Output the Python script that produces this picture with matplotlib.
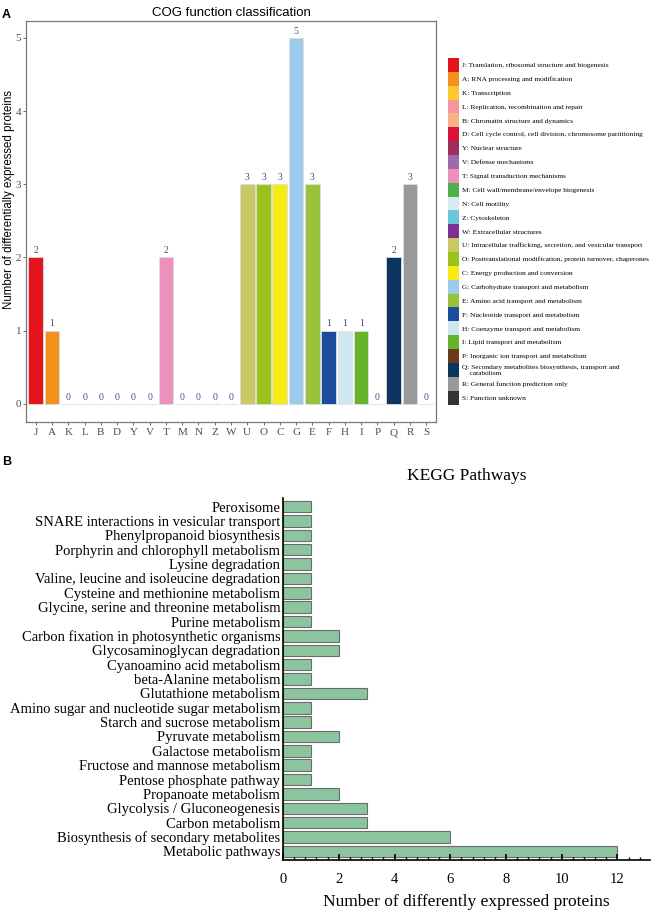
import matplotlib
matplotlib.use("Agg")
import matplotlib.pyplot as plt
from matplotlib.patches import Patch

# COG data
cog_codes = ["J", "A", "K", "L", "B", "D", "Y", "V", "T", "M", "N", "Z", "W",
             "U", "O", "C", "G", "E", "F", "H", "I", "P", "Q", "R", "S"]
cog_counts = [2, 1, 0, 0, 0, 0, 0, 0, 2, 0, 0, 0, 0,
              3, 3, 3, 5, 3, 1, 1, 1, 0, 2, 3, 0]
cog_colors = ["#E5141E", "#F3911F", "#FDC82F", "#F4979A", "#F9B08A", "#D7133A",
              "#9E2F5E", "#9D6BA8", "#EE90BC", "#4DB04A", "#D6EBF2", "#6CC5D9",
              "#7E3192", "#C9C864", "#99C31C", "#F7EB15", "#9DCBEC", "#98C23A",
              "#1E4C9C", "#CFE8EF", "#66B32E", "#6B3A1E", "#0C3461", "#999999",
              "#333333"]
cog_names = [
    "J: Translation, ribosomal structure and biogenesis",
    "A: RNA processing and modification",
    "K: Transcription",
    "L: Replication, recombination and repair",
    "B: Chromatin structure and dynamics",
    "D: Cell cycle control, cell division, chromosome partitioning",
    "Y: Nuclear structure",
    "V: Defense mechanisms",
    "T: Signal transduction mechanisms",
    "M: Cell wall/membrane/envelope biogenesis",
    "N: Cell motility",
    "Z: Cytoskeleton",
    "W: Extracellular structures",
    "U: Intracellular trafficking, secretion, and vesicular transport",
    "O: Posttranslational modification, protein turnover, chaperones",
    "C: Energy production and conversion",
    "G: Carbohydrate transport and metabolism",
    "E: Amino acid transport and metabolism",
    "F: Nucleotide transport and metabolism",
    "H: Coenzyme transport and metabolism",
    "I: Lipid transport and metabolism",
    "P: Inorganic ion transport and metabolism",
    "Q: Secondary metabolites biosynthesis, transport and\n    catabolism",
    "R: General function prediction only",
    "S: Function unknown",
]

# KEGG data (top to bottom as shown)
kegg_paths = [
    "Peroxisome",
    "SNARE interactions in vesicular transport",
    "Phenylpropanoid biosynthesis",
    "Porphyrin and chlorophyll metabolism",
    "Lysine degradation",
    "Valine, leucine and isoleucine degradation",
    "Cysteine and methionine metabolism",
    "Glycine, serine and threonine metabolism",
    "Purine metabolism",
    "Carbon fixation in photosynthetic organisms",
    "Glycosaminoglycan degradation",
    "Cyanoamino acid metabolism",
    "beta-Alanine metabolism",
    "Glutathione metabolism",
    "Amino sugar and nucleotide sugar metabolism",
    "Starch and sucrose metabolism",
    "Pyruvate metabolism",
    "Galactose metabolism",
    "Fructose and mannose metabolism",
    "Pentose phosphate pathway",
    "Propanoate metabolism",
    "Glycolysis / Gluconeogenesis",
    "Carbon metabolism",
    "Biosynthesis of secondary metabolites",
    "Metabolic pathways",
]
kegg_counts = [1, 1, 1, 1, 1, 1, 1, 1, 1, 2, 2, 1, 1, 3, 1, 1, 2, 1, 1, 1, 2, 3, 3, 6, 12]

serif = "Liberation Serif"
sans = "Liberation Sans"

fig = plt.figure(figsize=(6.6, 9.16), dpi=100)

# ---- Panel A ----
ax1 = fig.add_axes([0.0394, 0.5393, 0.6212, 0.4377])
xs = range(len(cog_codes))
ax1.bar(xs, cog_counts, width=0.9, color=cog_colors, edgecolor="#dddddd", linewidth=0.6)
for x, v in zip(xs, cog_counts):
    ax1.text(x, v + 0.03, str(v), ha="center", va="bottom", fontsize=7,
             family=serif, color="#3F4B8C")
ax1.set_xlim(-0.6, len(cog_codes) - 0.4)
ax1.set_ylim(-0.25, 5.23)
ax1.set_xticks(list(xs))
ax1.set_xticklabels(cog_codes, family=serif, fontsize=8, color="#4d4d4d")
ax1.set_yticks(range(6))
ax1.set_yticklabels([str(i) for i in range(6)], family=serif, fontsize=8, color="#4d4d4d")
ax1.tick_params(length=2.5, width=0.6, color="#555555", pad=2)
ax1.tick_params(axis="y", pad=1)
for s in ax1.spines.values():
    s.set_color("#777777")
    s.set_linewidth(0.9)
ax1.set_ylabel("Number of differentially expressed proteins", family=sans, fontsize=8.3)
ax1.yaxis.set_label_coords(-0.027, 0.555)
ax1.set_title("COG function classification", family=sans, fontsize=9.5, pad=4)

handles = [Patch(facecolor=c, edgecolor="none") for c in cog_colors]
fig.legend(handles, cog_names, loc="upper left", bbox_to_anchor=(448 / 660, 1 - 58 / 916),
           frameon=False, prop={"family": serif, "size": 5.3},
           handlelength=1.5, handleheight=2.52, handletextpad=0.35,
           labelspacing=0.0, borderpad=0, borderaxespad=0)

fig.text(0.003, 0.99, "A", fontsize=9, fontweight="bold", family=sans, va="top")

# ---- Panel B ----
ax2 = fig.add_axes([0.4288, 0.0611, 0.5562, 0.3952])
ys = list(range(len(kegg_paths)))[::-1]
ax2.barh(ys, kegg_counts, height=0.8, color="#8CC4A0", edgecolor="#6b6b6b", linewidth=0.8)
ax2.set_ylim(-0.6, len(kegg_paths) - 0.4)
ax2.set_xlim(0, 13.17)
ax2.set_yticks(ys)
ax2.set_yticklabels(kegg_paths, family=serif, fontsize=10.5)
ax2.tick_params(axis="y", length=0, pad=2)
ax2.set_xticks(range(0, 13, 2))
ax2.set_xticklabels([str(i) for i in range(0, 13, 2)], family=serif, fontsize=10.5)
ax2.set_xticks([i * 0.4 for i in range(33)], minor=True)
ax2.tick_params(axis="x", which="major", length=4, width=1.2, direction="in", pad=9)
ax2.tick_params(axis="x", which="minor", length=2.5, width=1, direction="in")
for side in ["top", "right"]:
    ax2.spines[side].set_visible(False)
ax2.spines["left"].set_linewidth(1.2)
ax2.spines["bottom"].set_linewidth(1.2)
ax2.set_xlabel("Number of differently expressed proteins", family=serif, fontsize=12.5, labelpad=6)
ax2.set_title("KEGG Pathways", family=serif, fontsize=12.5, pad=13)

fig.text(0.003, 0.502, "B", fontsize=9, fontweight="bold", family=sans, va="top")

fig.savefig("out.png", dpi=100)
